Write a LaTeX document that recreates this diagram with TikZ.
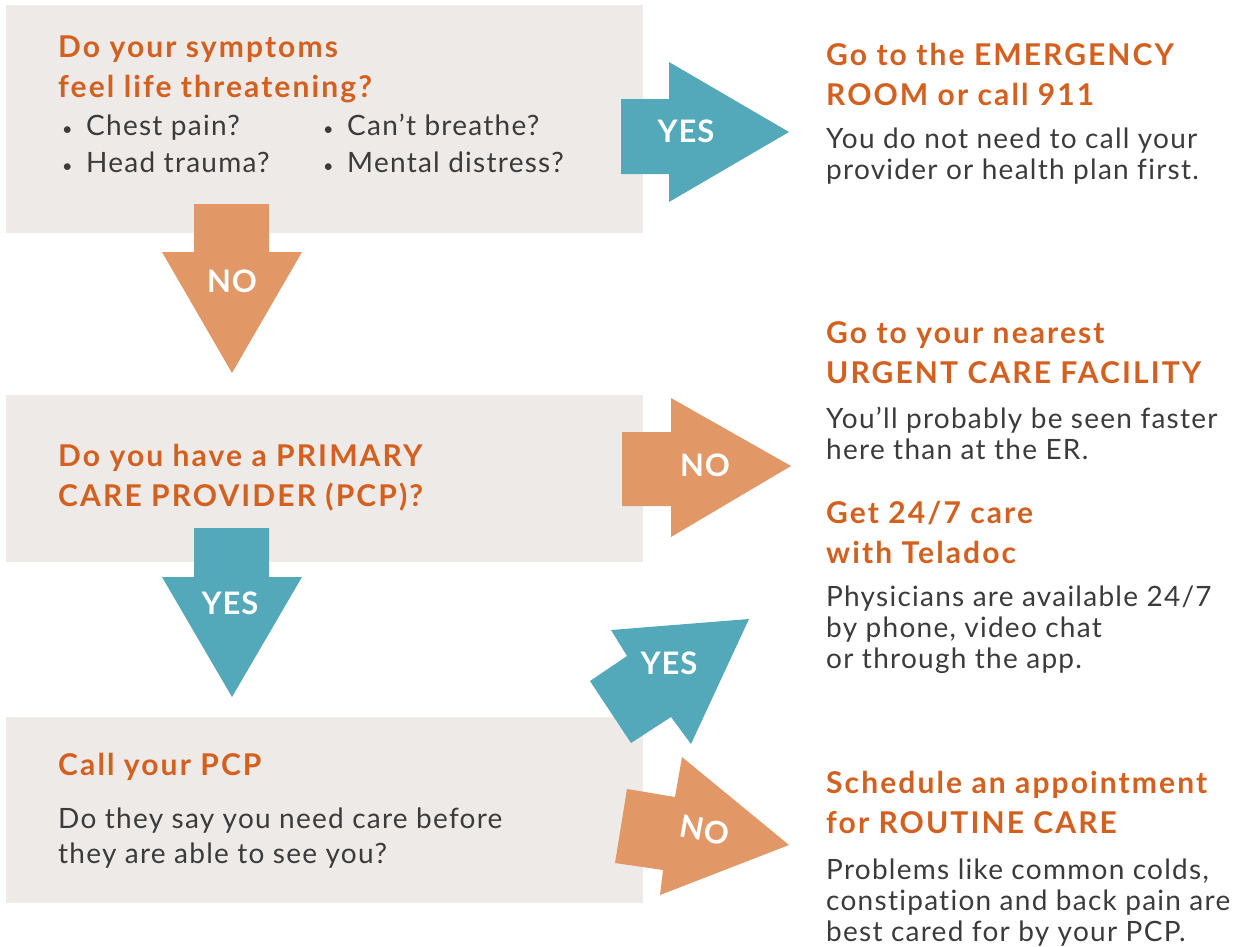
\documentclass[tikz,border=0pt]{standalone}
\usepackage{fontspec}
\setmainfont{Lato}
\newfontfamily\titlefont{Lato}[LetterSpace=7,Ligatures=NoCommon]
\newfontfamily\bodyfont{Lato}[LetterSpace=4.5,Ligatures=NoCommon]
\newfontfamily\tagfont{Lato}[LetterSpace=3]
\newcommand\bul{\makebox[24pt][l]{\fontsize{18}{18}\selectfont\textbullet}}
\definecolor{boxgray}{HTML}{EEEAE7}
\definecolor{yescol}{HTML}{53A9BA}
\definecolor{nocol}{HTML}{E19766}
\definecolor{titlecol}{HTML}{D3601F}
\definecolor{bodycol}{HTML}{3B3B3B}
\begin{document}
\begin{tikzpicture}[x=1pt,y=-1pt,
    box/.style={fill=boxgray},
    title/.style={anchor=base west,inner sep=0,align=left,text=titlecol,
      font=\fontsize{30}{40}\titlefont\bfseries},
    body/.style={anchor=base west,inner sep=0,align=left,text=bodycol,
      font=\fontsize{28}{31}\bodyfont},
    yesarrow/.style={fill=yescol},
    noarrow/.style={fill=nocol},
    tag/.style={text=white,inner sep=0,font=\fontsize{31}{31}\tagfont\bfseries}]
  \useasboundingbox (0,0) rectangle (1244,946);
  % question boxes
  \fill[box] (6,5) rectangle (643,233);
  \fill[box] (6,395) rectangle (643,562);
  \fill[box] (6,717) rectangle (643,903);
  % arrows
  \fill[yesarrow] (621,99) -- (669,99) -- (669,62) -- (789,132) -- (669,202) -- (669,174) -- (621,174) -- cycle;
  \fill[noarrow] (194,204) -- (269,204) -- (269,252) -- (302,252) -- (232,373) -- (162,252) -- (194,252) -- cycle;
  \fill[noarrow] (622,432) -- (671,432) -- (671,398) -- (791,466) -- (671,537) -- (671,506) -- (622,506) -- cycle;
  \fill[yesarrow] (194,528) -- (269,528) -- (269,577) -- (302,577) -- (232,697) -- (162,577) -- (194,577) -- cycle;
  \fill[yesarrow] (749,619) -- (691,744) -- (671,717) -- (631,743) -- (590,681) -- (627,656) -- (611,630) -- cycle;
  \fill[noarrow] (682,757) -- (789,845) -- (660,895) -- (663,870) -- (615,863) -- (627,789) -- (675,797) -- cycle;
  \node[tag] (yes1) at (686,131) {YES};
  \node[tag] (no1) at (232,281) {NO};
  \node[tag] (no2) at (705,465) {NO};
  \node[tag] (yes2) at (230,603) {YES};
  \node[tag] (yes3) at (669,663) {YES};
  \node[tag,rotate=-10] (no3) at (705,830) {NO};
  % left column
  \node[title] (q1) at (58,97) {Do your symptoms\\feel life threatening?};
  \node[body,font=\fontsize{28}{37}\bodyfont] (b1) at (62,172) {\bul Chest pain?\\\bul Head trauma?};
  \node[body,font=\fontsize{28}{37}\bodyfont] (b2) at (323,172) {\bul Can’t breathe?\\\bul Mental distress?};
  \node[title] (q2) at (58,506) {Do you have a PRIMARY\\CARE PROVIDER (PCP)?};
  \node[title] (q3) at (58,775) {Call your PCP};
  \node[body,font=\fontsize{28}{35}\bodyfont] (q3b) at (58,863) {Do they say you need care before\\they are able to see you?};
  % right column
  \node[title] (er) at (826,105) {Go to the EMERGENCY\\ROOM or call 911};
  \node[body] (erb) at (826,179) {You do not need to call your\\provider or health plan first.};
  \node[title] (uc) at (826,383) {Go to your nearest\\URGENT CARE FACILITY};
  \node[body] (ucb) at (826,459) {You’ll probably be seen faster\\here than at the ER.};
  \node[title] (td) at (826,563) {Get 24/7 care\\with Teladoc};
  \node[body] (tdb) at (826,668) {Physicians are available 24/7\\by phone, video chat\\or through the app.};
  \node[title] (rc) at (826,833) {Schedule an appointment\\for ROUTINE CARE};
  \node[body] (rcb) at (826,941) {Problems like common colds,\\constipation and back pain are\\best cared for by your PCP.};
\end{tikzpicture}
\end{document}
